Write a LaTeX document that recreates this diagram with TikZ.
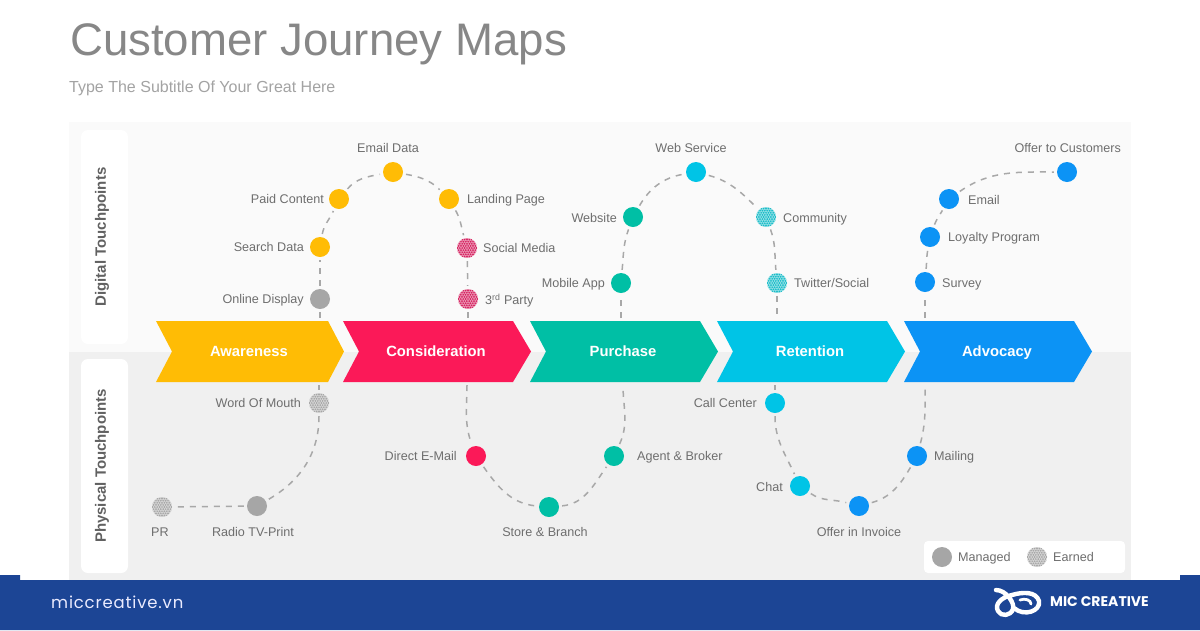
\documentclass[tikz,border=0pt]{standalone}
\usepackage{fontspec}
\setmainfont{Liberation Sans}
\newfontfamily\pop[LetterSpace=5]{Poppins}
\newfontfamily\popb{Poppins}
\definecolor{cy}{HTML}{FFBC05}
\definecolor{cp}{HTML}{FB1958}
\definecolor{cpe}{HTML}{D5205F}
\definecolor{ct}{HTML}{00BFA5}
\definecolor{cc}{HTML}{00C4E6}
\definecolor{cce}{HTML}{18BCC8}
\definecolor{cb}{HTML}{0C93F5}
\definecolor{cg}{HTML}{A6A6A6}
\definecolor{cd}{HTML}{A8A8A8}
\definecolor{txt}{HTML}{6E6E6E}
\definecolor{foot}{HTML}{1C4595}
\tikzset{
  dot/.style={circle,minimum size=20pt,inner sep=0pt,fill=#1},
  earned/.style={circle,minimum size=20pt,inner sep=0pt,fill=#1!45!white,
    path picture={
      \begin{scope}[shift={(path picture bounding box.center)}]
      \foreach \j in {-6,...,6}{\foreach \i in {-5,...,5}{
        \pgfmathsetmacro{\xx}{\i*2.4+(Mod(\j+6,2))*1.2}
        \pgfmathsetmacro{\yy}{\j*2.1}
        \fill[#1] (\xx,\yy) circle (0.95pt);
      }}
      \end{scope}}},
  conn/.style={draw=cd,line width=1.5pt,dash pattern=on 6pt off 6pt,shorten <=3pt,shorten >=3pt},
  lab/.style={font=\fontsize{12.6}{14}\selectfont,text=txt,inner sep=0pt,text height=9.2pt,text depth=0pt},
  side/.style={font=\fontsize{15}{17}\selectfont\bfseries,text=black!62,rotate=90,inner sep=0pt},
  whitebox/.style={fill=white,rounded corners=7pt},
  arrowtext/.style={font=\fontsize{14.8}{18}\selectfont\bfseries,text=white,inner sep=0pt,text height=10.6pt,text depth=0pt},
}
\begin{document}
\begin{tikzpicture}[x=1pt,y=-1pt]
\useasboundingbox (0,0) rectangle (1200,630);
\fill[white] (0,0) rectangle (1200,630);
\fill[black!2] (69,122) rectangle (1131,352);
\fill[black!6] (69,352) rectangle (1131,580);
\fill[foot] (0,575) -- (20,575) -- (20,580) -- (1180,580) -- (1180,575) -- (1200,575) -- (1200,630) -- (0,630) -- cycle;
\node[anchor=base west,inner sep=0pt,font=\fontsize{45.6}{50}\selectfont,text=black!47] (title) at (70,55) {Customer Journey Maps};
\node[anchor=base west,inner sep=0pt,font=\fontsize{16}{18}\selectfont,text=black!36] (subtitle) at (69,92) {Type The Subtitle Of Your Great Here};
\fill[whitebox] (81,130) rectangle (128,344);
\fill[whitebox] (81,359) rectangle (128,573);
\node[side] (digital) at (102,237) {Digital Touchpoints};
\node[side] (physical) at (102,466) {Physical Touchpoints};
% connector ends on the banners
\coordinate (a1) at (320,321); \coordinate (a2) at (319,382);
\coordinate (b1) at (468,321); \coordinate (b2) at (467,382);
\coordinate (c1) at (621,321); \coordinate (c2) at (623,382);
\coordinate (d1) at (777,321); \coordinate (d2) at (775,382);
\coordinate (e1) at (925,321); \coordinate (e2) at (925,382);
% nodes
\node[dot=cg] (online) at (320,299) {};
\node[dot=cy] (search) at (320,247) {};
\node[dot=cy] (paid) at (339,199) {};
\node[dot=cy] (emaild) at (393,172) {};
\node[dot=cy] (landing) at (449,199) {};
\node[earned=cpe] (social) at (467,248) {};
\node[earned=cpe] (third) at (468,299) {};
\node[dot=ct] (mobile) at (621,283) {};
\node[dot=ct] (website) at (633,217) {};
\node[dot=cc] (webserv) at (696,172) {};
\node[earned=cce] (community) at (766,217) {};
\node[earned=cce] (twitter) at (777,283) {};
\node[dot=cb] (survey) at (925,282) {};
\node[dot=cb] (loyalty) at (930,237) {};
\node[dot=cb] (email) at (949,199) {};
\node[dot=cb] (offer) at (1067,172) {};
\node[earned=cg] (wom) at (319,403) {};
\node[dot=cg] (radio) at (257,506) {};
\node[earned=cg] (pr) at (162,507) {};
\node[dot=cp] (direct) at (476,456) {};
\node[dot=ct] (store) at (549,507) {};
\node[dot=ct] (agent) at (614,456) {};
\node[dot=cc] (call) at (775,403) {};
\node[dot=cc] (chat) at (800,486) {};
\node[dot=cb] (invoice) at (859,506) {};
\node[dot=cb] (mailing) at (917,456) {};
% connectors
\draw[conn] (online) -- (a1);
\draw[conn] (online) -- (search);
\draw[conn] (search) to[out=80,in=-115] (paid);
\draw[conn] (paid) to[out=50,in=190] (emaild);
\draw[conn] (emaild) to[out=-10,in=135] (landing);
\draw[conn] (landing) to[out=-60,in=105] (social);
\draw[conn] (social) -- (third);
\draw[conn] (third) -- (b1);
\draw[conn] (c1) -- (mobile);
\draw[conn] (mobile) to[out=85,in=-110] (website);
\draw[conn] (website) to[out=60,in=190] (webserv);
\draw[conn] (webserv) to[out=-15,in=135] (community);
\draw[conn] (community) to[out=-70,in=95] (twitter);
\draw[conn] (twitter) -- (d1);
\draw[conn] (e1) -- (survey);
\draw[conn] (survey) to[out=85,in=-100] (loyalty);
\draw[conn] (loyalty) to[out=70,in=-120] (email);
\draw[conn] (email) to[out=35,in=180] (offer);
\draw[conn] (a2) -- (wom);
\draw[conn] (wom) to[out=-90,in=30] (radio);
\draw[conn] (radio) -- (pr);
\draw[conn] (b2) to[out=-90,in=110] (direct);
\draw[conn] (direct) to[out=-55,in=175] (store);
\draw[conn] (store) to[out=5,in=-125] (agent);
\draw[conn] (agent) to[out=65,in=-90] (c2);
\draw[conn] (d2) -- (call);
\draw[conn] (call) to[out=-90,in=115] (chat);
\draw[conn] (chat) to[out=-35,in=165] (invoice);
\draw[conn] (invoice) to[out=15,in=-120] (mailing);
\draw[conn] (mailing) to[out=75,in=-90] (e2);
% banners
\fill[cy] (156,321) -- (328,321) -- (344,351.5) -- (328,382) -- (156,382) -- (172,351.5) -- cycle;
\node[arrowtext] (n1) at (249,351) {Awareness};
\fill[cp] (343,321) -- (513,321) -- (531,351.5) -- (513,382) -- (343,382) -- (359,351.5) -- cycle;
\node[arrowtext] (n2) at (436,351) {Consideration};
\fill[ct] (530,321) -- (700,321) -- (718,351.5) -- (700,382) -- (530,382) -- (546,351.5) -- cycle;
\node[arrowtext] (n3) at (623,351) {Purchase};
\fill[cc] (717,321) -- (887,321) -- (905,351.5) -- (887,382) -- (717,382) -- (733,351.5) -- cycle;
\node[arrowtext] (n4) at (810,351) {Retention};
\fill[cb] (904,321) -- (1074,321) -- (1092,351.5) -- (1074,382) -- (904,382) -- (920,351.5) -- cycle;
\node[arrowtext] (n5) at (997,351) {Advocacy};
% labels
\node[lab,anchor=east] (l1) at (304,299) {Online Display};
\node[lab,anchor=east] (l2) at (304,247) {Search Data};
\node[lab,anchor=east] (l3) at (324,199) {Paid Content};
\node[lab] (l4) at (388,148) {Email Data};
\node[lab,anchor=west] (l5) at (467,199) {Landing Page};
\node[lab,anchor=west] (l6) at (483,248) {Social Media};
\node[lab,anchor=west] (l7) at (485,300) {3\textsuperscript{rd} Party};
\node[lab,anchor=east] (l8) at (605,283) {Mobile App};
\node[lab,anchor=east] (l9) at (617,218) {Website};
\node[lab] (l10) at (691,148) {Web Service};
\node[lab,anchor=west] (l11) at (783,218) {Community};
\node[lab,anchor=west] (l12) at (794,283) {Twitter/Social};
\node[lab,anchor=west] (l13) at (942,283) {Survey};
\node[lab,anchor=west] (l14) at (948,237) {Loyalty Program};
\node[lab,anchor=west] (l15) at (968,200) {Email};
\node[lab,anchor=east] (l16) at (1121,148) {Offer to Customers};
\node[lab,anchor=east] (l17) at (301,403) {Word Of Mouth};
\node[lab] (l18) at (253,532) {Radio TV-Print};
\node[lab] (l19) at (160,532) {PR};
\node[lab,anchor=east] (l20) at (457,456) {Direct E-Mail};
\node[lab] (l21) at (545,532) {Store \& Branch};
\node[lab,anchor=west] (l22) at (637,456) {Agent \& Broker};
\node[lab,anchor=east] (l23) at (757,403) {Call Center};
\node[lab,anchor=east] (l24) at (783,487) {Chat};
\node[lab] (l25) at (859,532) {Offer in Invoice};
\node[lab,anchor=west] (l26) at (934,456) {Mailing};
% legend
\fill[fill=white,rounded corners=4pt] (924,541) rectangle (1125,573);
\node[dot=cg] (lm) at (942,557) {};
\node[lab,anchor=west] (lmt) at (958,557) {Managed};
\node[earned=cg] (le) at (1037,557) {};
\node[lab,anchor=west] (let) at (1053,557) {Earned};
% footer
\node[anchor=west,inner sep=0pt,font=\pop\fontsize{16.5}{18}\selectfont,text=blue!8!white] (site) at (51,602) {miccreative.vn};
\node[anchor=west,inner sep=0pt,font=\popb\bfseries\fontsize{14}{16}\selectfont,text=white] (brand) at (1050,602) {MIC CREATIVE};
\draw[white,line width=4.4pt,line cap=round,line join=round] (996,590) .. controls (1006,590) and (1015,603) .. (1013,609) .. controls (1011,616) and (1001,617) .. (998,611) .. controls (994,604) and (1002,597) .. (1012,595) .. controls (1022,592) and (1036,591) .. (1039,601) .. controls (1041,611) and (1024,617) .. (1014,608);
\draw[white,line width=2.8pt,line cap=round] (1020,600) .. controls (1025,598) and (1031,600) .. (1031,604);
\end{tikzpicture}
\end{document}
